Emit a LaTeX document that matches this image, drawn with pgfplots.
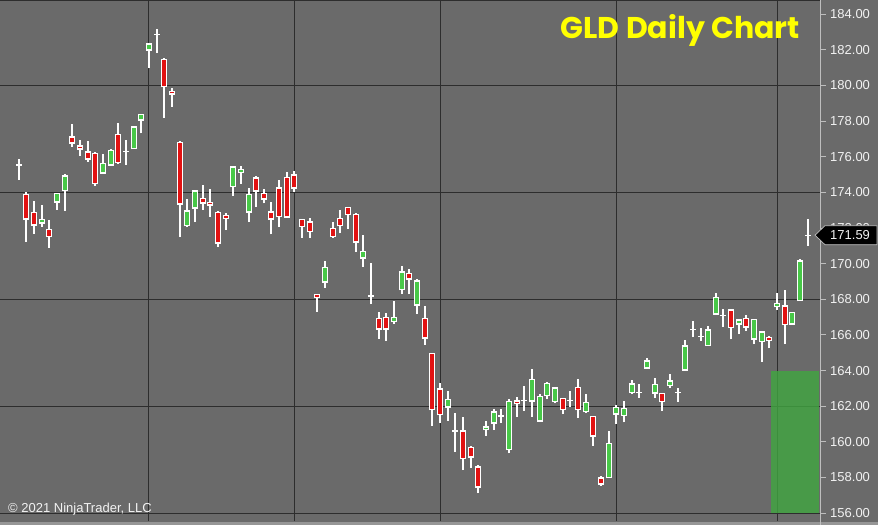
\documentclass[border=0pt]{standalone}
\usepackage{fontspec}
\setmainfont{Liberation Sans}
\newfontfamily\titlefont{Poppins}
\usepackage{pgfplots}
\usepackage{pgfplotstable}
\pgfplotsset{compat=1.18}

\definecolor{bg}{RGB}{106,106,106}
\definecolor{strip}{RGB}{150,150,150}
\definecolor{gridc}{RGB}{45,45,45}
\definecolor{axisc}{RGB}{190,190,190}
\definecolor{lbl}{RGB}{242,242,242}
\definecolor{upc}{RGB}{72,200,72}
\definecolor{dnc}{RGB}{225,18,18}
\definecolor{zone}{RGB}{64,167,64}
\definecolor{ttl}{RGB}{255,255,0}

% daily bars: index, open, high, low, close
\pgfplotstableread{
i o h l c
0 175.53 175.87 174.69 175.53
1 173.90 174.00 171.23 172.49
2 172.88 173.51 171.68 172.15
3 172.26 173.29 172.07 172.49
4 171.93 172.45 170.89 171.51
5 173.44 173.94 173.01 173.94
6 174.09 175.01 172.95 174.93
7 177.12 177.81 176.56 176.75
8 176.61 176.93 176.04 176.41
9 176.28 176.88 175.72 175.85
10 176.19 176.28 174.35 174.48
11 175.07 176.13 175.07 175.61
12 175.51 176.40 175.51 176.36
13 177.25 177.87 175.59 175.66
14 176.30 176.93 175.53 176.30
15 176.43 177.70 176.43 177.68
16 178.04 178.37 177.31 178.37
17 181.98 182.32 180.95 182.32
18 182.86 183.14 181.80 182.86
19 181.46 181.52 178.18 179.91
20 179.66 179.85 178.80 179.51
21 176.80 176.89 171.48 173.34
22 172.11 173.62 172.04 172.97
23 173.10 174.09 172.32 174.09
24 173.66 174.41 173.01 173.38
25 173.44 174.17 172.63 173.27
26 172.86 172.97 170.95 171.14
27 172.71 172.82 171.89 172.52
28 174.31 175.42 173.79 175.42
29 175.10 175.49 174.47 175.29
30 172.88 174.22 172.32 173.90
31 174.80 174.91 173.16 174.06
32 173.94 174.17 173.38 173.62
33 172.91 173.47 171.64 172.50
34 174.26 174.69 172.04 172.63
35 174.84 175.12 172.60 172.60
36 174.99 175.19 174.03 174.22
37 172.49 172.49 171.45 172.07
38 172.35 172.54 171.45 171.79
39 168.28 168.28 167.30 168.09
40 168.95 170.15 168.65 169.79
41 171.98 172.32 171.45 171.51
42 172.54 173.01 171.70 172.11
43 173.16 173.16 171.94 172.73
44 172.77 172.86 170.67 171.20
45 170.30 171.61 169.83 170.69
46 168.18 170.02 167.72 168.18
47 166.93 167.27 165.79 166.32
48 166.97 167.21 165.68 166.32
49 166.74 167.90 166.60 166.99
50 168.52 169.87 168.28 169.53
51 169.46 169.70 168.28 169.12
52 167.66 169.12 167.16 169.03
53 166.93 167.62 165.44 165.81
54 164.97 165.00 160.91 161.79
55 162.98 163.29 161.08 161.51
56 161.94 162.86 161.19 162.39
57 160.61 161.61 159.45 160.61
58 160.61 161.38 158.42 159.04
59 159.70 159.77 158.52 159.14
60 158.61 158.71 157.12 157.45
61 160.69 161.19 160.33 160.84
62 161.04 161.84 160.67 161.69
63 161.45 161.86 161.08 161.45
64 159.55 162.39 159.36 162.26
65 162.29 162.54 161.42 162.17
66 162.33 163.13 161.75 162.33
67 162.29 164.09 161.42 163.51
68 161.17 162.69 161.17 162.54
69 162.58 163.38 162.42 163.29
70 162.26 163.10 162.17 163.04
71 162.45 162.45 161.55 161.79
72 162.31 162.86 161.94 162.31
73 163.06 163.51 161.33 161.79
74 161.69 162.67 161.64 162.22
75 161.44 161.44 159.79 160.31
76 157.98 158.10 157.55 157.63
77 157.99 160.61 157.99 159.92
78 161.55 162.07 161.01 161.94
79 161.47 162.31 161.09 161.87
80 162.76 163.47 162.69 163.25
81 162.76 163.25 162.48 162.76
82 164.13 164.72 164.13 164.54
83 162.73 163.57 162.45 163.23
84 162.73 162.73 161.75 162.26
85 163.15 163.81 163.01 163.42
86 162.76 163.01 162.26 162.76
87 164.03 165.72 164.00 165.38
88 166.28 166.78 165.87 166.28
89 165.90 166.41 165.66 165.90
90 165.40 166.52 165.40 166.29
91 167.16 168.37 167.16 168.11
92 167.10 167.44 166.46 167.10
93 167.40 167.45 165.75 166.41
94 166.61 166.84 166.04 166.84
95 166.93 167.12 166.24 166.43
96 165.77 166.88 165.48 166.88
97 165.62 166.18 164.47 166.18
98 165.87 165.94 165.25 165.66
99 167.58 168.34 167.40 167.77
100 167.64 168.52 165.48 166.56
101 166.61 167.25 166.61 167.25
102 167.92 170.24 167.92 170.16
103 171.59 172.49 171.00 171.59
}\ohlc

\begin{document}
\begin{tikzpicture}[x=1pt,y=1pt]
\useasboundingbox (0,0) rectangle (878,525);
\fill[bg] (0,0) rectangle (878,525);
\fill[strip] (0,0) rectangle (878,3.3);
\begin{axis}[
  at={(0pt,4pt)}, anchor=south west,
  scale only axis, width=820pt, height=521pt,
  xmin=-2.44, xmax=104.6, ymin=155.56, ymax=184.785,
  axis line style={draw=none},
  xtick={17,36,55,78,99}, xticklabels={},
  xmajorgrids,
  x tick style={draw=none},
  ytick={156,158,...,184},
  ytick pos=right, yticklabel pos=right,
  tick align=outside, major tick length=6pt,
  y tick style={draw=axisc, line width=0.8pt},
  extra y ticks={156,162,168,174,180}, extra y tick labels={},
  extra y tick style={grid=major, major tick length=0pt},
  major grid style={draw=gridc, line width=0.9pt},
  yticklabel style={font=\fontsize{13}{13}\selectfont, text=lbl, anchor=west, inner sep=0pt, xshift=4pt},
  /pgf/number format/fixed, /pgf/number format/fixed zerofill,
  /pgf/number format/precision=2, /pgf/number format/1000 sep={},
  /pgf/number format/assume math mode=true,
]
% target zone
\addplot[draw=none, fill=zone, fill opacity=0.8, forget plot]
  coordinates {(98.2,156) (104.5,156) (104.5,164) (98.2,164)} -- cycle;
% wicks
\addplot[draw=none, mark=none, forget plot,
  error bars/.cd, y dir=plus, y explicit, error mark=none,
  error bar style={line width=2pt, draw=white}]
  table[x=i, y=l, y error plus expr={\thisrow{h}-\thisrow{l}}] {\ohlc};
% body outlines
\addplot[draw=none, mark=none, forget plot,
  error bars/.cd, y dir=plus, y explicit, error mark=none,
  error bar style={line width=6pt, draw=white}]
  table[x=i, y expr={min(\thisrow{o},\thisrow{c})-0.03},
        y error plus expr={abs(\thisrow{c}-\thisrow{o})+0.06}] {\ohlc};
% up bodies
\addplot[draw=none, mark=none, forget plot,
  error bars/.cd, y dir=plus, y explicit, error mark=none,
  error bar style={line width=4pt, draw=upc}]
  table[x=i, y expr={\thisrow{o}+0.05},
        y error plus expr={max(\thisrow{c}-\thisrow{o}-0.10,0)}] {\ohlc};
% down bodies
\addplot[draw=none, mark=none, forget plot,
  error bars/.cd, y dir=plus, y explicit, error mark=none,
  error bar style={line width=4pt, draw=dnc}]
  table[x=i, y expr={\thisrow{c}+0.05},
        y error plus expr={max(\thisrow{o}-\thisrow{c}-0.10,0)}] {\ohlc};
\end{axis}
\draw[gridc, line width=0.9pt] (0,524.6) -- (820,524.6);
\draw[axisc, line width=0.8pt] (820,0) -- (820,525);
% last price tag
\fill[black] (815,289.8) -- (825,299.3) -- (877,299.3) -- (877,280.3) -- (825,280.3) -- cycle;
\draw[axisc, line width=0.7pt] (815,289.8) -- (825,299.3) -- (877,299.3) -- (877,280.3) -- (825,280.3) -- cycle;
\node[anchor=west, inner sep=0pt, text=lbl, font=\fontsize{13}{13}\selectfont] at (830,289.8) {171.59};
% title and credit
\node[anchor=base east, inner sep=0pt, text=ttl, font=\titlefont\bfseries\fontsize{30}{30}\selectfont] at (800,486) {GLD Daily Chart};
\node[anchor=base west, inner sep=0pt, text=lbl, font=\fontsize{13}{13}\selectfont] at (8,12.3) {\textcopyright{} 2021 NinjaTrader, LLC};
\end{tikzpicture}
\end{document}
